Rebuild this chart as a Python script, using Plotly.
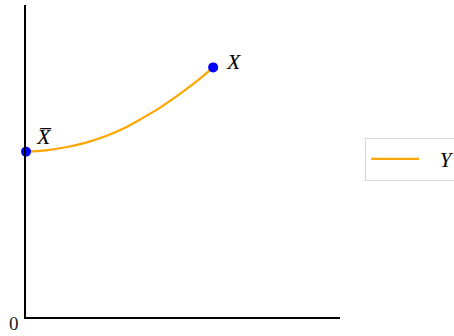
import plotly.graph_objects as go

# curve Y
curve_x = [0.0, 0.064, 0.127, 0.191, 0.255, 0.312, 0.363, 0.427, 0.490, 0.554, 0.596]
curve_y = [0.530, 0.534, 0.544, 0.559, 0.580, 0.605, 0.633, 0.671, 0.715, 0.764, 0.800]

# marked points
pt_x = [0.0, 0.596]
pt_y = [0.530, 0.800]
pt_labels = ["X\u0305", "X"]

fig = go.Figure()
fig.add_trace(go.Scatter(x=curve_x, y=curve_y, mode="lines", name="\u2002 <i>Y</i>      ",
                         line=dict(color="orange", width=2.2, shape="spline", smoothing=1)))
fig.add_trace(go.Scatter(x=pt_x, y=pt_y, mode="markers", showlegend=False,
                         marker=dict(color="blue", size=10), cliponaxis=False))

fig.add_annotation(x=pt_x[0], y=pt_y[0], text="<i>" + pt_labels[0] + "</i>", showarrow=False,
                   xanchor="left", yanchor="bottom", xshift=8, yshift=1,
                   font=dict(family="Liberation Serif", size=22, color="black"))
fig.add_annotation(x=pt_x[1], y=pt_y[1], text="<i>" + pt_labels[1] + "</i>", showarrow=False,
                   xanchor="left", yanchor="middle", xshift=11, yshift=6,
                   font=dict(family="Liberation Serif", size=22, color="black"))
fig.add_annotation(x=0, y=0, text="0", showarrow=False, xanchor="right", yanchor="bottom",
                   xshift=-5, yshift=-19,
                   font=dict(family="Liberation Serif", size=19, color="#222"))

fig.update_layout(
    width=454, height=336,
    margin=dict(l=26, r=114, t=5, b=19, autoexpand=False),
    plot_bgcolor="white", paper_bgcolor="white",
    xaxis=dict(range=[0, 1], showline=True, linecolor="black", linewidth=2,
               showgrid=False, zeroline=False, showticklabels=False, ticks=""),
    yaxis=dict(range=[0, 1], showline=True, linecolor="black", linewidth=2,
               showgrid=False, zeroline=False, showticklabels=False, ticks=""),
    legend=dict(x=1.08, y=0.506, xanchor="left", yanchor="middle",
                bordercolor="#d6d6d6", borderwidth=1, bgcolor="white",
                itemwidth=48,
                font=dict(family="Liberation Serif", size=21, color="black")),
)

fig.write_html("out.html", config={"displayModeBar": False},
               post_script="document.body.style.margin='0';")
